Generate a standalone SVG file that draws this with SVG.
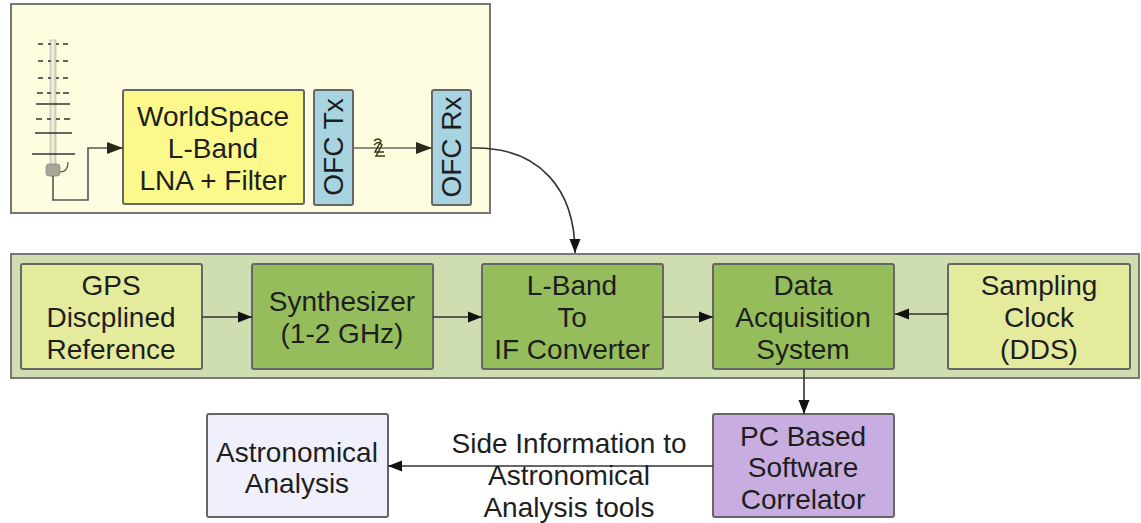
<svg xmlns="http://www.w3.org/2000/svg" width="1141" height="523" viewBox="0 0 1141 523">
  <defs>
    <marker id="arrow" viewBox="0 0 14 12" refX="14" refY="6" markerWidth="14" markerHeight="12" markerUnits="userSpaceOnUse" orient="auto">
      <path d="M0,0.5 L14,6 L0,11.5 z" fill="#111"/>
    </marker>
    <marker id="arrowL" viewBox="0 0 16 12" refX="16" refY="6" markerWidth="16" markerHeight="12" markerUnits="userSpaceOnUse" orient="auto">
      <path d="M0,0 L16,6 L0,12 z" fill="#2a2a1a"/>
    </marker>
    <linearGradient id="mast" x1="0" y1="0" x2="1" y2="0">
      <stop offset="0" stop-color="#d8d8c0"/>
      <stop offset="0.5" stop-color="#f2f2e4"/>
      <stop offset="1" stop-color="#c8c8b0"/>
    </linearGradient>
    <style>
      text { font-family: "Liberation Sans", Arial, sans-serif; font-size: 28px; fill: #1e1e1e; text-anchor: middle; }
      .frame { stroke: #777; stroke-width: 2; }
      .box { stroke: #666; stroke-width: 2; }
      .conn { fill: none; stroke: #333; stroke-width: 1.6; }
      .elem { stroke: #333; stroke-width: 1.6; }
    </style>
  </defs>

  <!-- receiver front end enclosure -->
  <g id="frontend-frame">
    <rect class="frame" x="11" y="4" width="479" height="209" fill="#fefde0"/>
  </g>

  <!-- Yagi antenna: mast, director elements and feed -->
  <g id="antenna">
    <rect x="50" y="40" width="6" height="128" fill="url(#mast)" stroke="#c0c0a8" stroke-width="0.8"/>
    <g class="elem">
      <path d="M38,44 h5 M48,44 h3 M56,44 h3 M63,44 h5"/>
      <path d="M38,61 h5 M48,61 h3 M56,61 h3 M63,61 h5"/>
      <path d="M38,78 h5 M48,78 h3 M56,78 h3 M63,78 h5"/>
      <path d="M37,93 h6 M47,93 h4 M56,93 h4 M63,93 h6"/>
      <path d="M36,104 h34"/>
      <path d="M36,119 h6 M47,119 h4 M56,119 h4 M64,119 h6"/>
      <path d="M35,133 h37"/>
      <path d="M32,154 h43"/>
    </g>
    <rect x="46" y="164" width="14" height="12" rx="3" fill="#a8a898" stroke="#888" stroke-width="0.8"/>
    <path d="M60,172 Q68,172 68,162" fill="none" stroke="#555" stroke-width="1.2"/>
  </g>

  <g id="lna">
    <rect class="box" x="123" y="90" width="181" height="114" rx="2" fill="#fcf98c"/>
    <text x="213" y="126">WorldSpace</text>
    <text x="213" y="158">L-Band</text>
    <text x="213" y="190">LNA + Filter</text>
  </g>

  <g id="ofc-tx">
    <rect class="box" x="314" y="90" width="39" height="115" rx="2" fill="#a8d4e2"/>
    <text transform="translate(343,147) rotate(-90)">OFC Tx</text>
  </g>

  <g id="ofc-rx">
    <rect class="box" x="432" y="90" width="39" height="115" rx="2" fill="#a8d4e2"/>
    <text transform="translate(461,147) rotate(-90)">OFC Rx</text>
  </g>

  <!-- signal processing chain enclosure -->
  <g id="backend-frame">
    <rect class="frame" x="11" y="254" width="1128" height="124" fill="#cfdeb1"/>
  </g>

  <g id="gps-ref">
    <rect class="box" x="21" y="264" width="181" height="105" rx="2" fill="#e4eb9c"/>
    <text x="111" y="295">GPS</text>
    <text x="111" y="327">Discplined</text>
    <text x="111" y="359">Reference</text>
  </g>

  <g id="synthesizer">
    <rect class="box" x="252" y="264" width="181" height="105" rx="2" fill="#96bd5c"/>
    <text x="342" y="311">Synthesizer</text>
    <text x="342" y="343">(1-2 GHz)</text>
  </g>

  <g id="if-converter">
    <rect class="box" x="482" y="264" width="181" height="105" rx="2" fill="#96bd5c"/>
    <text x="572" y="295">L-Band</text>
    <text x="572" y="327">To</text>
    <text x="572" y="359">IF Converter</text>
  </g>

  <g id="daq">
    <rect class="box" x="713" y="264" width="181" height="105" rx="2" fill="#96bd5c"/>
    <text x="803" y="295">Data</text>
    <text x="803" y="327">Acquisition</text>
    <text x="803" y="359">System</text>
  </g>

  <g id="sampling-clock">
    <rect class="box" x="948" y="264" width="182" height="105" rx="2" fill="#e4eb9c"/>
    <text x="1039" y="295">Sampling</text>
    <text x="1039" y="327">Clock</text>
    <text x="1039" y="359">(DDS)</text>
  </g>

  <g id="correlator">
    <rect class="box" x="713" y="414" width="181" height="103" rx="2" fill="#c8aee0"/>
    <text x="803" y="446">PC Based</text>
    <text x="803" y="477">Software</text>
    <text x="803" y="509">Correlator</text>
  </g>

  <g id="astro-analysis">
    <rect class="box" x="207" y="414" width="181" height="103" rx="2" fill="#f0f0fc"/>
    <text x="297" y="462">Astronomical</text>
    <text x="297" y="493">Analysis</text>
  </g>

  <g id="connectors">
    <!-- antenna feed to LNA -->
    <path d="M53,176 V200 H88 V148 H123" fill="none" stroke="#555" stroke-width="1.6" marker-end="url(#arrowL)"/>
    <!-- optical fibre link with break mark -->
    <path d="M353,148 H432" fill="none" stroke="#666" stroke-width="1.6" marker-end="url(#arrowL)"/>
    <path d="M374,141 Q378,137 381,141 L375,152 H384 M374,145 Q379,140 382,145 L376,156 H385" fill="none" stroke="#3b3b10" stroke-width="1.5"/>
    <!-- fibre receiver down to chain -->
    <path class="conn" d="M471,148 C540,146 575,190 575,253" marker-end="url(#arrow)"/>
    <path class="conn" d="M202,317 H252" marker-end="url(#arrow)"/>
    <path class="conn" d="M433,317 H482" marker-end="url(#arrow)"/>
    <path class="conn" d="M663,317 H713" marker-end="url(#arrow)"/>
    <path class="conn" d="M948,314 H895" marker-end="url(#arrow)"/>
    <path class="conn" d="M804,369 V414" marker-end="url(#arrow)"/>
    <path class="conn" d="M713,466 H388" marker-end="url(#arrow)"/>
    <g id="side-info-label">
      <text x="569" y="453">Side Information to</text>
      <text x="569" y="485">Astronomical</text>
      <text x="569" y="517">Analysis tools</text>
    </g>
  </g>
</svg>
